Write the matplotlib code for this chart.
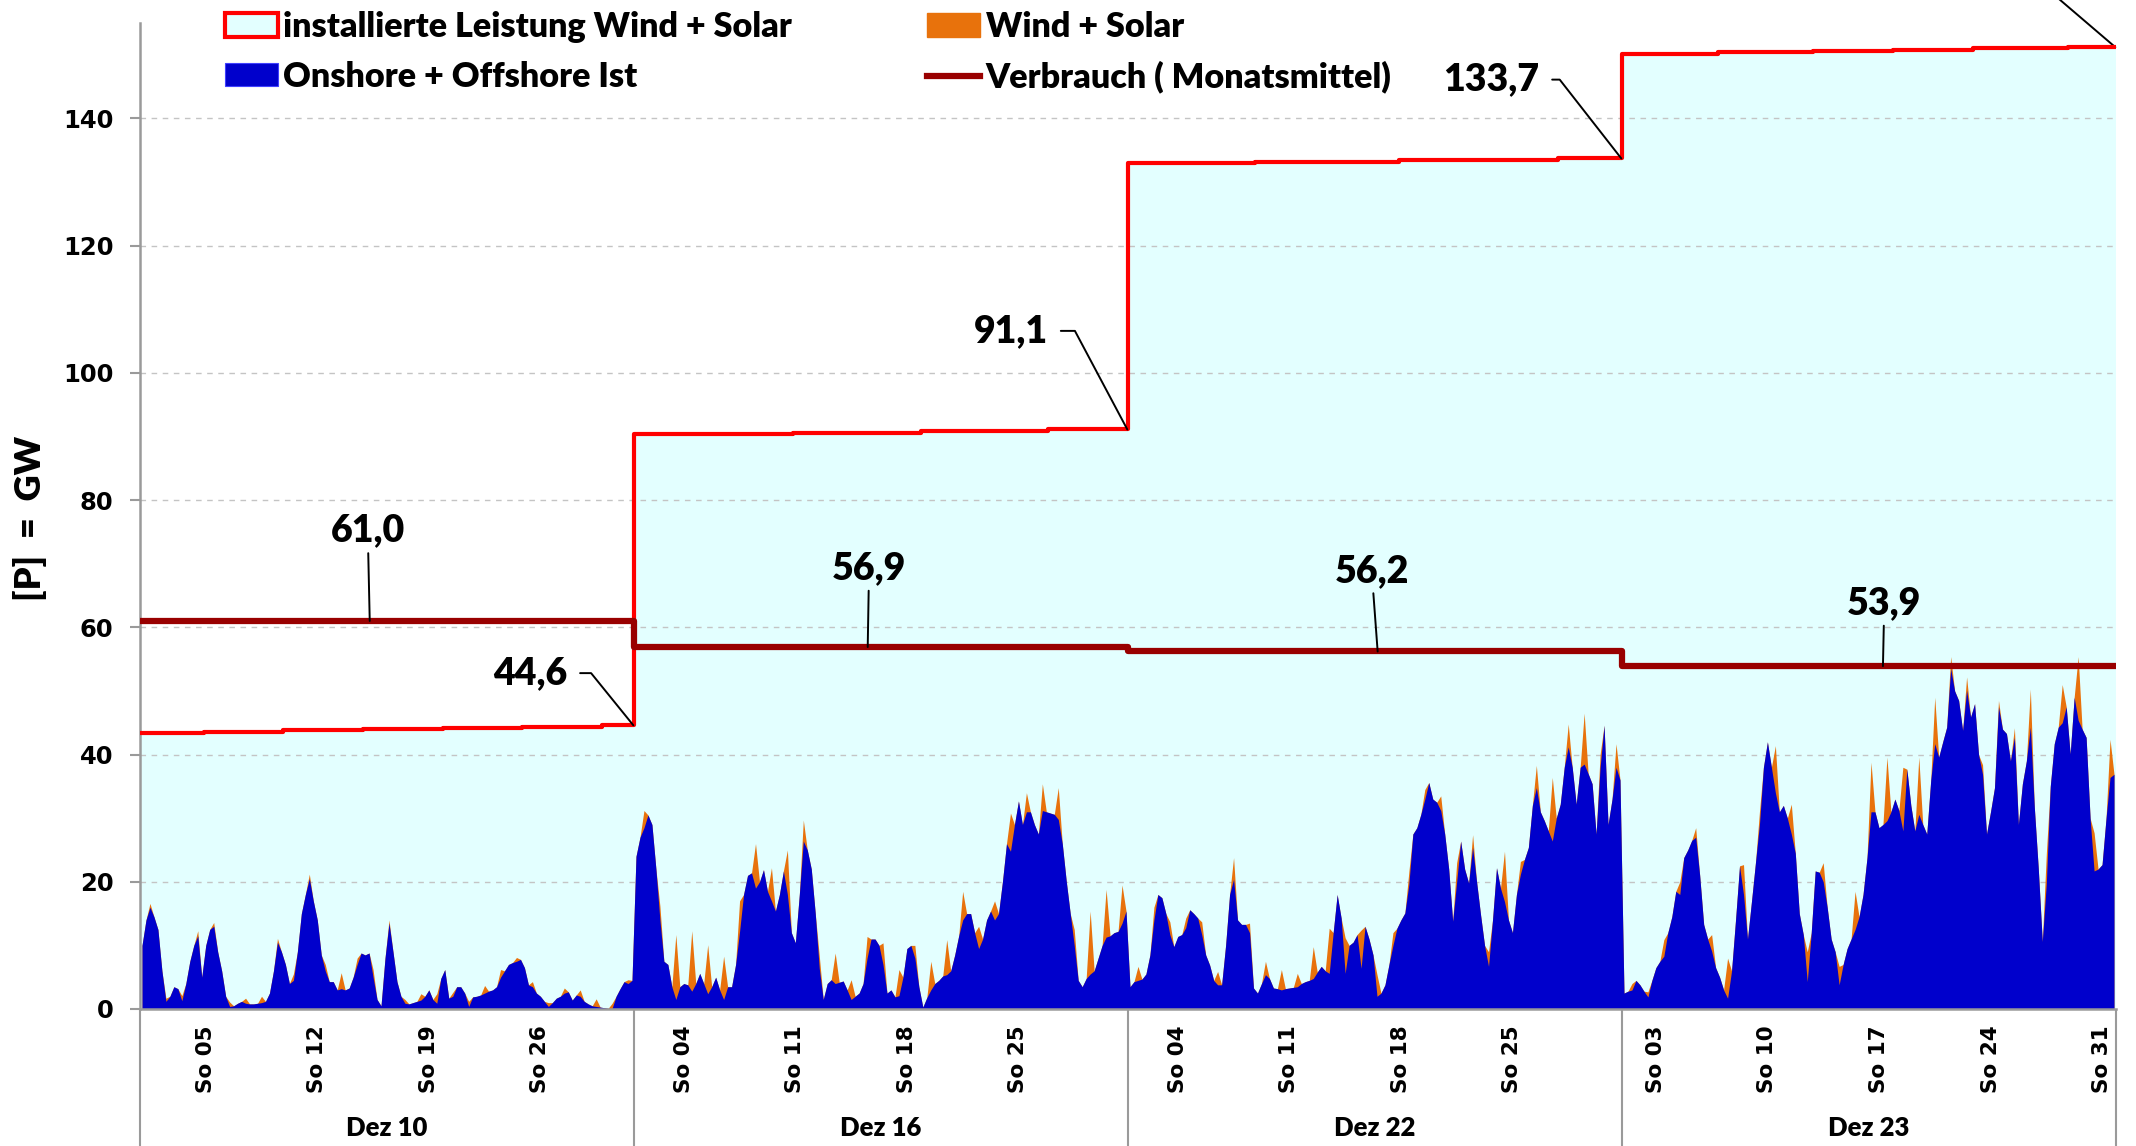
import numpy as np
import matplotlib
matplotlib.use("Agg")
import matplotlib.pyplot as plt
import matplotlib.transforms as mtransforms
from matplotlib.patches import Patch
from matplotlib.lines import Line2D

# Monate (je 31 Tage, Werte im 6-Stunden-Raster, 4 Werte pro Tag)
months = ["Dez 10", "Dez 16", "Dez 22", "Dez 23"]
sundays = [[5, 12, 19, 26], [4, 11, 18, 25], [4, 11, 18, 25], [3, 10, 17, 24, 31]]

# Onshore + Offshore Ist [GW]
wind_dez10 = [10, 14, 16, 14.5, 12.5, 6, 1.2, 2, 3.5, 3.2, 1.3, 4, 7.5, 10, 11.5, 5,
              10, 12.5, 13, 9, 6, 2, 0.4, 0.5, 0.9, 1.2, 0.9, 0.8, 0.8, 0.9, 1.0, 1.2,
              2.5, 6, 10.5, 9, 7, 4, 4.5, 9, 15, 18, 20.5, 17, 14, 8.5, 6, 4.3,
              4.3, 3.0, 3.2, 3.0, 3.3, 5, 7, 8.8, 8.5, 8.8, 5, 1.5, 0.5, 8, 13.5, 9,
              4.3, 2, 0.9, 0.8, 1.0, 1.2, 1.4, 2, 3.0, 1.5, 0.9, 4.8, 6.2, 1.7, 2, 3.5,
              3.5, 2.5, 0.4, 1.9, 2.0, 2.2, 2.5, 2.8, 3.0, 3.5, 5, 6, 7.0, 7.3, 7.5, 7.8,
              6.5, 3.8, 3.5, 2.5, 2.0, 1.2, 0.4, 1.0, 1.7, 2.0, 2.5, 2.7, 1.4, 2.2, 2.0, 1.2,
              0.8, 0.5, 0.4, 0.3, 0.2, 0.1, 0.1, 2.0, 3.2, 4.3, 4.0, 4.5]
wind_dez16 = [24, 27, 28.5, 30.5, 29, 22, 14, 7.5, 7, 3.5, 1.5, 3.5, 4, 3.8, 2.8, 4,
              5.6, 4, 2.4, 3.5, 5, 3, 1.5, 3.5, 3.5, 7, 12.2, 18, 21, 21.4, 19, 20,
              21.9, 18.5, 17, 15.4, 18, 21.7, 18, 12, 10.4, 18, 26.4, 25, 22, 15, 6.4, 1.5,
              4, 4.6, 4.0, 4.2, 4.4, 3, 1.5, 2, 2.5, 4, 8, 11, 11, 10, 7, 2.5,
              3, 1.9, 2.1, 5, 9.5, 10, 8, 3.5, 0.3, 1.8, 3, 4, 4.5, 5.2, 5.4, 6,
              8.5, 11.5, 14, 15, 15, 12, 9.5, 11, 14, 15.4, 14, 15, 20.1, 26, 24.8, 29,
              32.7, 29, 31, 31, 29, 27.5, 31.2, 31, 30.8, 30.6, 29.8, 26, 20.1, 15, 10, 4.5,
              3.5, 4.8, 5.5, 6, 8, 10, 11.3, 11.5, 12, 12.2, 13.5, 15.4]
wind_dez22 = [3.5, 4.3, 4.5, 4.7, 5.5, 8.5, 14, 18, 17.5, 15, 11.7, 9.8, 11.4, 11.7, 12.8, 15.6,
              15, 14.3, 11.7, 8.5, 6.9, 4.5, 3.8, 3.8, 10, 18, 20.4, 14, 13.3, 13.3, 12, 3.3,
              2.5, 4, 5.4, 4.8, 3.3, 3.2, 3.0, 3.2, 3.3, 3.4, 3.5, 4, 4.3, 4.5, 4.8, 5.8,
              6.7, 6, 5.6, 12, 18, 14.3, 5.6, 10, 10.5, 11.7, 6.4, 13, 11, 8.5, 2, 2.5,
              3.8, 7, 10, 12.7, 14, 15.1, 19.6, 27.5, 28.5, 30.6, 33, 35.6, 33, 32.5, 31.2, 27.5,
              22, 13.8, 20, 26.4, 22, 19.8, 25.4, 20, 14.8, 10, 6.7, 14, 22.2, 19, 16.9, 14,
              12, 18, 21.2, 23.5, 25.4, 32, 34.8, 31, 29.6, 28, 26.4, 30, 32.2, 38, 41.2, 38,
              32.2, 38, 38.5, 37, 35.4, 27.5, 38, 44.6, 29, 33, 38, 36]
wind_dez23 = [2.5, 2.8, 3.0, 4.5, 3.8, 2.8, 1.9, 4.5, 6.5, 7.5, 8.3, 12, 14.5, 18.5, 18, 23.8,
              25, 26.5, 27, 21, 13.3, 11, 9.1, 6.5, 5, 3, 1.7, 6, 14, 22.5, 18, 11,
              16.9, 23, 29, 38, 42, 38, 34, 31, 32, 30, 27.5, 24.5, 15, 11.7, 4.3, 12,
              21.7, 21.5, 20, 16, 11, 9, 3.8, 7, 9.5, 11, 12.5, 14.5, 18, 23.8, 31, 31,
              28.5, 29, 29.6, 31, 33, 31.2, 28, 37.7, 32, 28, 30.6, 29, 27.5, 36, 41.7, 39.6,
              42, 44.3, 53.5, 50, 48.5, 43.8, 50.1, 45.9, 48, 40, 36.9, 27.5, 31, 34.8, 47.5, 44,
              43.3, 39, 42.7, 29, 35.4, 39, 44.3, 31.7, 22, 10.6, 19.6, 35, 41.7, 44.3, 45, 47.5,
              40.1, 49, 45.4, 44, 42.7, 30, 21.7, 22, 22.7, 30, 36.4, 36.9]

# Solar-Mittagsspitze je Tag [GW] (Wind + Solar = Wind + Solar-Spitze um 12 Uhr)
solar_dez10 = [0.6, 0.5, 0.8, 0.8, 0.6, 0.7, 0.8, 1.0, 0.6, 1.0, 0.7, 1.0, 2.5, 1.0, 1.2, 0.5,
               0.6, 1.0, 1.5, 0.6, 0.8, 1.2, 1.2, 0.6, 0.8, 0.6, 0.8, 1.0, 1.2, 0.8, 0.6]
solar_dez16 = [2.7, 2.2, 10.2, 9.5, 7.7, 6.8, 4.8, 7, 5.2, 7, 3.3, 2, 4.8, 3.1, 3.4, 3.4,
               4.1, 2, 4.5, 5.5, 4.5, 3.5, 3, 6, 3, 4.2, 5, 2.5, 9.9, 7.5, 6]
solar_dez22 = [2.2, 2, 2, 1.5, 2, 2.1, 3.4, 1.5, 2.1, 3.2, 2.1, 5, 7.1, 5.6, 6, 3.4,
               2, 2, 1.5, 2.3, 3, 2, 2.3, 7.9, 2, 3.5, 10, 3.6, 8, 2, 3.7]
solar_dez23 = [1, 0.8, 2.6, 2, 1.5, 2.6, 6.3, 4.7, 2, 7.4, 4.7, 4.7, 3, 2.9, 6, 7.8,
               10, 10, 9, 7.3, 1.9, 2.1, 1.5, 1, 1.5, 6, 4.7, 6, 10, 6, 6]

# installierte Leistung Wind + Solar [GW]: Stufen (Tag des Wechsels, Wert)
cap_days = [[0, 4, 9, 14, 19, 24, 29], [0, 10, 18, 26], [0, 8, 17, 27], [0, 6, 12, 17, 22, 28]]
cap_values = [[43.4, 43.6, 43.8, 44.0, 44.2, 44.4, 44.6], [90.4, 90.6, 90.85, 91.1],
              [133.0, 133.2, 133.45, 133.7], [150.2, 150.4, 150.6, 150.8, 151.0, 151.2]]

# Verbrauch (Monatsmittel) [GW]
verbrauch = [61.0, 56.9, 56.2, 53.9]

# ---------------------------------------------------------------
HM = 31 * 24
wind_all = [wind_dez10, wind_dez16, wind_dez22, wind_dez23]
solar_all = [solar_dez10, solar_dez16, solar_dez22, solar_dez23]

x_list, w_list, t_list = [], [], []
for m, (w, s) in enumerate(zip(wind_all, solar_all)):
    w = np.array(w, dtype=float)
    assert len(w) == 124 and len(s) == 31
    sol = np.zeros_like(w)
    sol[2::4] = s
    x_list.append(m * HM + np.arange(len(w)) * 6 + 3)
    w_list.append(w)
    t_list.append(w + sol)
x = np.concatenate(x_list)
wind = np.concatenate(w_list)
total = np.concatenate(t_list)

cap_x, cap_y = [], []
for m in range(4):
    for d, v in zip(cap_days[m], cap_values[m]):
        cap_x.append(m * HM + d * 24)
        cap_y.append(v)
cap_x.append(4 * HM)
cap_y.append(cap_values[-1][-1])

verb_x = [m * HM for m in range(4)] + [4 * HM]
verb_y = verbrauch + [verbrauch[-1]]

c_cyan = "#e3ffff"
c_red = "#ff0000"
c_dred = "#990000"
c_blue = "#0000cc"
c_orange = "#e8720c"
c_axis = "#9a9a9a"

lato = "Lato"
heavy = "heavy"

fig = plt.figure(figsize=(21.36, 11.46), dpi=100)
W, H = 2136, 1146
ax = fig.add_axes([140 / W, (H - 1009) / H, (2116 - 140) / W, (1009 - 23) / H])

ax.fill_between(cap_x, cap_y, 0, step="post", color=c_cyan, lw=0, zorder=1)
for v in range(20, 141, 20):
    ax.axhline(v, color="#c4c4c4", lw=1.0, ls=(0, (4, 4)), zorder=1.5)
ax.fill_between(x, total, 0, color=c_orange, lw=0, zorder=2)
ax.fill_between(x, wind, 0, color=c_blue, lw=0, zorder=2.5)
ax.plot(cap_x, cap_y, drawstyle="steps-post", color=c_red, lw=3.0, zorder=4)
ax.plot(verb_x, verb_y, drawstyle="steps-post", color=c_dred, lw=4.5, zorder=4.5)

ax.set_xlim(0, 4 * HM)
ax.set_ylim(0, 155)

for sp in ["top", "right"]:
    ax.spines[sp].set_visible(False)
for sp in ["left", "bottom"]:
    ax.spines[sp].set_color(c_axis)
    ax.spines[sp].set_linewidth(1.8)

ax.set_yticks(range(0, 141, 20))
ax.tick_params(axis="y", length=7, width=1.5, color=c_axis, pad=12)
for lab in ax.get_yticklabels():
    lab.set_fontfamily("DejaVu Sans")
    lab.set_fontweight("bold")
    lab.set_fontsize(17.5)

tick_pos, tick_lab = [], []
for m in range(4):
    for d in sundays[m]:
        tick_pos.append(m * HM + (d - 1) * 24 + 3)
        tick_lab.append("So %02d" % d)
ax.set_xticks(tick_pos)
ax.set_xticklabels(tick_lab, rotation=90, fontsize=15.5, fontweight="bold", family="DejaVu Sans")
ax.tick_params(axis="x", which="major", length=0, pad=12)
ax.set_xticks([m * HM for m in range(5)], minor=True)
ax.tick_params(axis="x", which="minor", length=100, width=1.5, color=c_axis)

trans = mtransforms.blended_transform_factory(ax.transData, ax.transAxes)
for m, name in enumerate(months):
    ax.text(m * HM + HM / 2, -0.1207, name, transform=trans, ha="center", va="center",
            fontsize=18.5, fontweight=heavy, family=lato)

fig.text(30 / W, 1 - 518 / H, "[P]  =  GW", rotation=90, ha="center", va="center",
         fontsize=26, fontweight=heavy, family=lato)

# Beschriftungen
def label(txt, xy, xyt, conn=None):
    ap = dict(arrowstyle="-", color="black", lw=1.4, shrinkA=2, shrinkB=0)
    if conn is not None:
        ap["connectionstyle"] = conn
        ap["relpos"] = (1, 0.5)
        ap["shrinkA"] = 7
        ax.annotate(txt, xy=xy, xytext=xyt, ha="right", va="center", fontsize=27,
                    fontweight=heavy, family=lato, arrowprops=ap, zorder=6)
    else:
        ax.annotate(txt, xy=xy, xytext=xyt, ha="center", va="center", fontsize=27,
                    fontweight=heavy, family=lato, arrowprops=ap, zorder=6)

fmt = lambda v: ("%.1f" % v).replace(".", ",")
label(fmt(verbrauch[0]), (346, verbrauch[0]), (343, 75.2))
label(fmt(verbrauch[1]), (1096, verbrauch[1]), (1098, 69.3))
label(fmt(verbrauch[2]), (1864, verbrauch[2]), (1855, 68.9))
label(fmt(verbrauch[3]), (2625, verbrauch[3]), (2627, 63.8))
label(fmt(cap_values[0][-1]), (HM - 1, cap_values[0][-1]), (644, 52.8),
      "angle,angleA=0,angleB=129,rad=0")
label(fmt(cap_values[1][-1]), (2 * HM - 1, cap_values[1][-1]), (1368, 106.6),
      "angle,angleA=0,angleB=118,rad=0")
label(fmt(cap_values[2][-1]), (3 * HM - 1, cap_values[2][-1]), (2108, 146.1),
      "angle,angleA=0,angleB=128,rad=0")
ax.annotate("", xy=(4 * HM - 1, cap_values[3][-1]), xytext=(2854, 162),
            annotation_clip=False,
            arrowprops=dict(arrowstyle="-", color="black", lw=1.4, shrinkA=0, shrinkB=0))

handles = [
    Patch(facecolor=c_cyan, edgecolor=c_red, lw=3, label="installierte Leistung Wind + Solar"),
    Patch(facecolor=c_blue, edgecolor="#4040ff", lw=0.8, label="Onshore + Offshore Ist"),
    Patch(facecolor=c_orange, edgecolor=c_orange, label="Wind + Solar"),
    Line2D([0], [0], color=c_dred, lw=4.5, label="Verbrauch ( Monatsmittel)"),
]
fig.legend(handles=handles, ncol=2, loc="upper left", bbox_to_anchor=(225 / W, 1 - 11 / H),
           frameon=False, prop=dict(family=lato, weight=heavy, size=24.6),
           handlelength=1.55, handleheight=0.67, handletextpad=0.16, columnspacing=3.95,
           labelspacing=0.52, borderpad=0, borderaxespad=0)

fig.savefig("out.png", dpi=100)
